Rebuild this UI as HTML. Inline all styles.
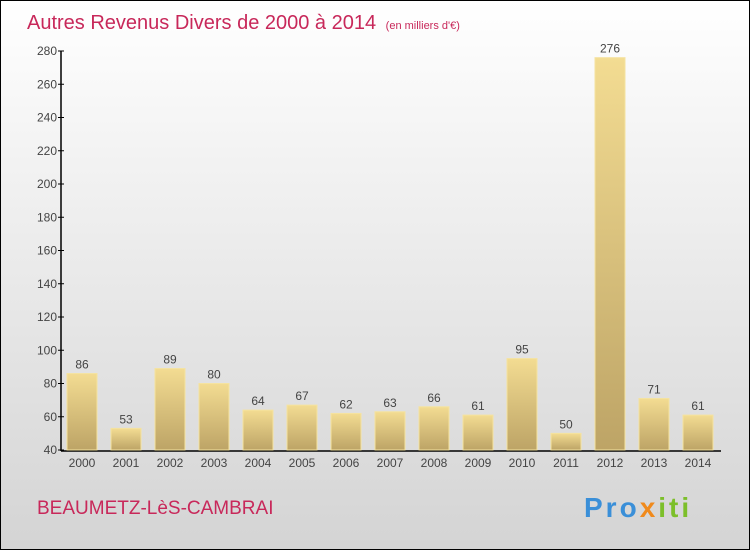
<!DOCTYPE html>
<html><head><meta charset="utf-8"><style>
html,body{margin:0;padding:0}
body{width:750px;height:550px;overflow:hidden;font-family:"Liberation Sans",sans-serif}
#wrap{position:absolute;left:0;top:0;width:748px;height:548px;border:1px solid #000;background:linear-gradient(#fff 0%,#f2f2f2 30%,#d4d4d4 100%)}
</style></head><body>
<div id="wrap">
<svg id="chart" width="748" height="548" xmlns="http://www.w3.org/2000/svg">
<defs><linearGradient id="bg" x1="0" y1="0" x2="0" y2="1"><stop offset="0" stop-color="#f3dc92"/><stop offset="1" stop-color="#bda466"/></linearGradient></defs>
<text x="26" y="28" font-size="20" fill="#c8285a">Autres Revenus Divers de 2000 à 2014 <tspan font-size="11" dx="4">(en milliers d'€)</tspan></text>
<text x="36" y="513" font-size="19" fill="#c8285a">BEAUMETZ-LèS-CAMBRAI</text>
<text x="583" y="516" font-size="28" font-weight="bold" letter-spacing="3"><tspan fill="#3a8fd8">Pro</tspan><tspan fill="#f08a1c">x</tspan><tspan fill="#7cbf2a">iti</tspan></text>
<g id="g"></g>
</svg></div>
<script>
const years=["2000","2001","2002","2003","2004","2005","2006","2007","2008","2009","2010","2011","2012","2013","2014"];
const values=[86,53,89,80,64,67,62,63,66,61,95,50,276,71,61];
const yTicks=[40,60,80,100,120,140,160,180,200,220,240,260,280];
const NS="http://www.w3.org/2000/svg";
const g=document.getElementById('g');
const yMin=40,yMax=280,y0=449,y1=50;
const Y=v=>y0-(v-yMin)*(y0-y1)/(yMax-yMin);
const X=i=>81+i*44;
function el(t,a,txt){const e=document.createElementNS(NS,t);for(const k in a)e.setAttribute(k,a[k]);if(txt!==undefined)e.textContent=txt;g.appendChild(e);return e;}
let ax=el('line',{x1:60,y1:y1,x2:60,y2:y0+1,stroke:'#000','stroke-width':1.5});


let bx=el('line',{x1:60,y1:y0+1,x2:720,y2:y0+1,stroke:'#000','stroke-width':1.5});


yTicks.forEach(t=>{
 let tk=el('line',{x1:57,x2:63,y1:Y(t),y2:Y(t),stroke:'#000'});
 
 
 let l=el('text',{x:56,y:Y(t)+4,'font-size':12,'text-anchor':'end',fill:'#444'},t);
 
 
});
values.forEach((v,i)=>{
 const cx=X(i);
 let r=el('rect',{x:cx-15,y:Y(v),width:30,height:y0-Y(v),fill:'url(#bg)',stroke:'#f5e3a0','stroke-width':1});
 
 
 let vl=el('text',{x:cx,y:Y(v)-5,'font-size':12,'text-anchor':'middle',fill:'#444'},v);
 
 
 let xl=el('text',{x:cx,y:466,'font-size':12,'text-anchor':'middle',fill:'#444'},years[i]);
 
 
});
</script>
</body></html>
